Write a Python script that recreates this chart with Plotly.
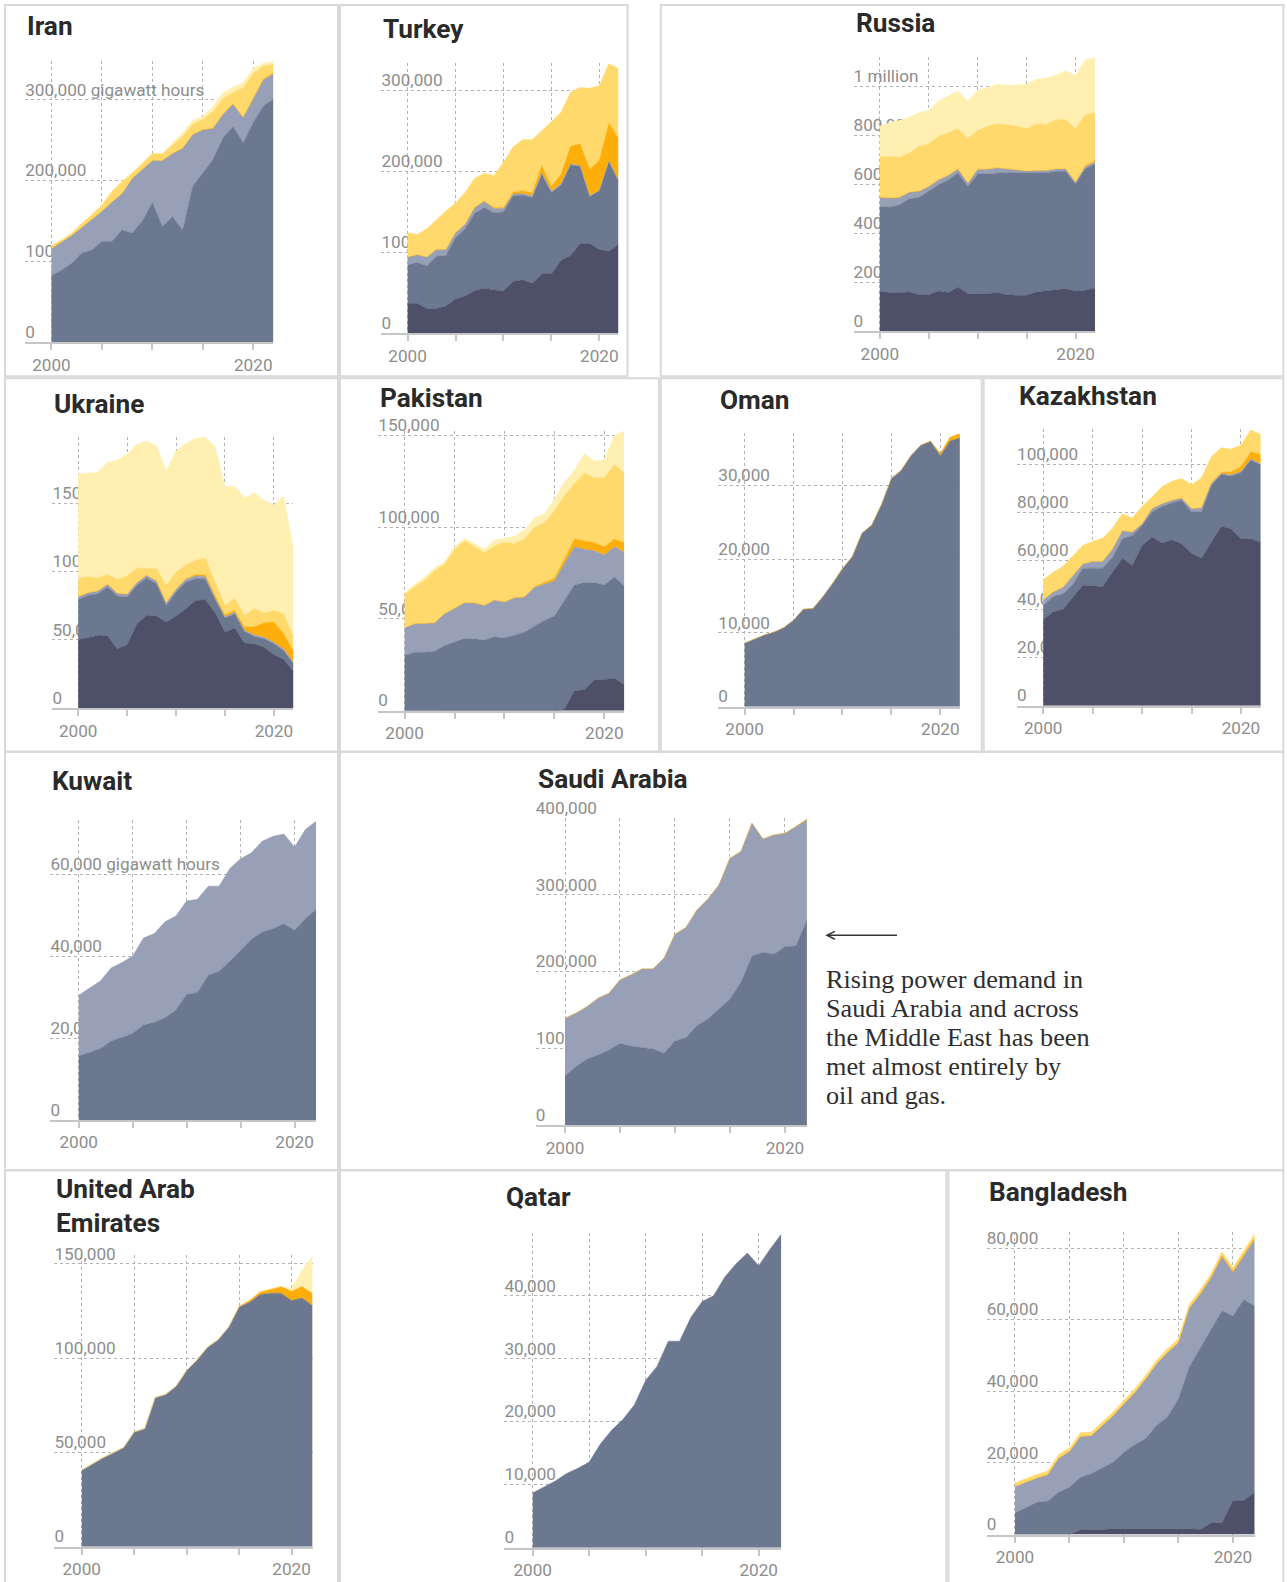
import plotly.graph_objects as go

# Page size; positions below are measured on the reference as displayed
# (1568 px tall), so they are scaled up by S to page pixels.
PAGE_W, PAGE_H = 1287, 1582
S = 1582 / 1568


def px(x):
    return x * S / PAGE_W


def py(y):
    return 1 - y * S / PAGE_H


YEARS = [2000, 2001, 2002, 2003, 2004, 2005, 2006, 2007, 2008, 2009, 2010, 2011,
         2012, 2013, 2014, 2015, 2016, 2017, 2018, 2019, 2020, 2021, 2022]
X_TICKS = [2000, 2005, 2010, 2015, 2020]
X_TICK_TEXT = ["2000", "", "", "", "2020"]

# Electricity generation by source, thousand gigawatt hours
IRAN_GAS = [82.2, 89.2, 97.5, 110.0, 114.0, 124.5, 125.0, 139.0, 135.0, 150.0, 173.0, 143.0,
            155.6, 138.6, 193.0, 209.5, 226.0, 253.0, 267.0, 247.0, 272.0, 292.5, 301.0]
IRAN_OIL = [33.8, 34.5, 34.5, 32.0, 37.5, 37.5, 48.4, 45.0, 67.5, 63.7, 52.0, 82.0,
            78.0, 101.4, 64.0, 53.5, 38.7, 29.0, 27.6, 31.0, 30.0, 32.0, 31.0]
IRAN_WIND = [0, 0, 0, 0, 0, 0, 0, 0, 0, 0, 0, 0, 0, 0, 0, 0, 0.3, 0.5, 0.6, 0.7, 1.0, 1.5, 2.0]
IRAN_HYDRO = [3.5, 2.8, 3.0, 5.0, 6.2, 8.0, 13.3, 15.0, 7.0, 8.0, 8.6, 8.6,
              11.2, 15.0, 13.0, 13.0, 20.7, 19.5, 13.8, 36.3, 30.0, 16.0, 10.0]
IRAN_NUCLEAR = [0, 0, 0, 0, 0, 0, 0, 0, 0, 0, 0, 0, 1.3, 4.5, 4.5, 3.5, 6.0, 7.0, 7.0, 6.5, 6.0, 3.5, 4.0]

TURKEY_COAL = [36.6, 36.6, 30.3, 30.3, 33.2, 42.0, 45.7, 52.3, 55.3, 53.2, 52.3, 63.6,
               65.6, 61.5, 72.7, 72.7, 89.7, 95.6, 110.5, 110.5, 103.0, 101.0, 109.3]
TURKEY_GAS = [47.7, 50.6, 52.8, 64.4, 62.4, 75.6, 83.1, 95.6, 99.7, 95.5, 97.3, 105.9,
              104.7, 105.9, 123.8, 101.0, 93.1, 112.1, 95.5, 58.2, 72.7, 110.9, 78.9]
TURKEY_OIL = [9.5, 9.5, 10.8, 8.3, 7.5, 6.2, 5.4, 7.0, 7.5, 5.0, 4.0, 2.0,
              2.0, 1.8, 1.5, 1.5, 1.2, 1.0, 0.8, 0.5, 0.5, 0.5, 0.5]
TURKEY_WIND = [0, 0, 0, 0, 0, 0, 0.1, 0.4, 0.8, 1.5, 1.5, 2.5,
               3.5, 4.0, 9.0, 6.0, 12.0, 22.0, 27.0, 33.0, 37.0, 47.0, 52.0]
TURKEY_HYDRO = [30.0, 25.0, 34.9, 37.4, 47.7, 36.6, 39.4, 35.8, 34.0, 39.2, 55.9, 55.7,
                63.1, 65.7, 42.3, 79.7, 76.5, 66.8, 69.5, 100.3, 92.2, 73.4, 85.9]

RUSSIA_COAL = [164.0, 158.5, 158.5, 161.0, 150.0, 150.0, 165.0, 158.5, 181.7, 154.0, 154.0, 154.0,
               158.5, 150.0, 147.5, 147.5, 161.0, 165.0, 168.0, 175.0, 164.0, 168.0, 177.6]
RUSSIA_GAS = [345.6, 348.3, 357.9, 380.0, 396.4, 421.0, 433.4, 460.4, 464.5, 437.5, 488.0, 488.0,
              487.5, 496.0, 498.5, 495.9, 485.0, 481.0, 485.0, 478.0, 437.0, 496.0, 505.4]
RUSSIA_OIL = [37, 37, 30, 27, 25, 20, 20, 18, 16, 14, 20, 20, 22, 18, 12, 11, 10, 10, 10, 10, 7, 8, 8]
RUSSIA_WIND = [0, 0, 0, 0, 0, 0, 0, 0, 0, 0, 0, 0, 0, 0, 0, 0, 0, 0, 0, 0.5, 1.5, 4.0, 6.0]
RUSSIA_HYDRO = [165.1, 170.7, 164.0, 160.0, 184.1, 174.0, 178.0, 173.1, 165.7, 181.4, 157.7, 175.4,
                179.0, 177.5, 179.4, 173.5, 191.0, 188.3, 201.8, 201.3, 218.4, 209.2, 195.0]
RUSSIA_NUCLEAR = [125.7, 136.5, 150.3, 146.3, 136.5, 136.6, 143.5, 150.4, 153.0, 153.0, 163.9, 157.1,
                  161.2, 162.6, 168.1, 180.3, 181.7, 188.5, 181.6, 198.0, 217.1, 222.8, 225.5]

UKRAINE_COAL = [50.1, 51.8, 53.3, 53.1, 43.5, 46.5, 61.9, 68.0, 67.5, 63.1, 67.5, 72.9,
                79.0, 79.2, 69.9, 55.7, 58.7, 47.7, 47.2, 44.7, 39.1, 35.7, 26.9]
UKRAINE_GAS = [29.6, 30.8, 30.6, 35.7, 38.7, 34.9, 28.1, 27.4, 23.7, 12.2, 17.6, 19.5,
               15.9, 15.2, 9.8, 10.3, 10.5, 8.5, 5.4, 6.2, 8.1, 6.6, 5.6]
UKRAINE_OIL = [2.0, 2.0, 2.0, 2.0, 2.0, 2.0, 2.0, 2.0, 2.0, 2.0, 2.0, 2.0,
               2.0, 2.0, 1.0, 1.0, 1.0, 1.0, 1.0, 1.0, 1.0, 1.0, 1.0]
UKRAINE_WIND = [0, 0, 0, 0, 0, 0, 0, 0, 0, 0, 0, 0.5, 1.0, 1.2, 1.8, 1.5, 1.5, 2.2, 6.0, 10.7, 14.9, 11.2, 8.1]
UKRAINE_HYDRO = [13.2, 12.0, 9.5, 7.2, 10.2, 13.4, 10.7, 5.3, 9.0, 12.7, 12.7, 10.2,
                 10.4, 12.4, 9.9, 6.8, 9.0, 8.6, 13.3, 7.3, 8.5, 14.7, 10.5]
UKRAINE_NUCLEAR = [76.5, 75.8, 77.5, 82.0, 87.3, 89.3, 90.5, 92.9, 90.0, 83.6, 88.5, 88.8,
                   89.3, 88.3, 99.0, 86.8, 81.9, 86.0, 85.0, 82.4, 77.1, 86.3, 63.5]

PAKISTAN_COAL = [0, 0, 0, 0, 0, 0.3, 0.3, 0.3, 0.3, 0.3, 0.3, 0.3,
                 0.3, 0.3, 0.3, 0.3, 1.0, 10.9, 11.5, 16.9, 17.1, 17.7, 14.2]
PAKISTAN_GAS = [30.1, 31.9, 31.9, 32.4, 35.5, 37.3, 39.1, 38.9, 38.2, 40.0, 39.4, 40.9,
                42.5, 45.8, 48.9, 51.3, 58.8, 57.6, 58.3, 52.9, 51.4, 55.2, 53.8]
PAKISTAN_OIL = [15.1, 15.5, 15.7, 15.5, 17.4, 18.3, 19.5, 19.5, 18.9, 20.0, 19.5, 20.4,
                19.2, 21.0, 19.7, 19.1, 20.4, 20.8, 18.2, 17.3, 16.4, 16.4, 18.2]
PAKISTAN_WIND = [0, 0, 0, 0, 0, 0, 0, 0, 0, 0, 0, 0, 0, 0.5, 1.0, 1.5, 2.4, 4.2, 4.5, 4.5, 4.3, 4.2, 5.5]
PAKISTAN_HYDRO = [18.2, 20.2, 23.5, 28.3, 26.9, 31.9, 33.7, 30.6, 28.8, 29.6, 32.5, 29.5,
                  31.5, 32.3, 32.7, 36.8, 34.6, 30.1, 37.1, 35.3, 37.7, 40.7, 37.9]
PAKISTAN_NUCLEAR = [0.9, 1.3, 1.8, 1.5, 1.3, 1.6, 1.3, 1.5, 1.8, 3.1, 2.4, 3.9,
                    5.1, 5.1, 4.6, 6.4, 7.3, 7.3, 10.4, 9.1, 9.8, 15.8, 22.8]

OMAN_GAS = [8.6, 9.2, 9.7, 10.1, 10.7, 11.7, 13.2, 13.3, 14.9, 16.7, 18.7, 20.3,
            23.5, 24.6, 27.4, 30.9, 32.0, 34.0, 35.4, 35.9, 34.0, 36.0, 36.4]
OMAN_WIND = [0, 0, 0, 0, 0, 0, 0, 0, 0, 0, 0, 0, 0, 0, 0, 0, 0, 0, 0, 0.1, 0.3, 0.5, 0.6]

KAZAKHSTAN_COAL = [35.8, 38.8, 39.9, 44.8, 49.9, 49.7, 49.2, 55.2, 61.0, 58.0, 66.3, 69.8,
                   67.4, 68.7, 67.0, 63.1, 61.0, 67.7, 74.3, 73.2, 69.1, 69.1, 67.7]
KAZAKHSTAN_GAS = [5.5, 6.4, 6.3, 5.5, 7.0, 7.2, 7.7, 6.2, 8.1, 12.5, 8.3, 10.4,
                  15.1, 15.2, 18.0, 17.1, 19.2, 23.6, 21.4, 21.9, 27.4, 32.6, 31.9]
KAZAKHSTAN_OIL = [2.5, 1.9, 2.8, 3.7, 1.8, 2.8, 2.8, 3.5, 3.3, 1.4, 0.7, 1.4,
                  1.1, 1.1, 1.0, 1.4, 1.7, 0.7, 0.4, 0.4, 0.4, 0.4, 0.4]
KAZAKHSTAN_WIND = [0, 0, 0, 0, 0, 0, 0, 0, 0, 0, 0, 0, 0, 0, 0, 0, 0, 0.3, 0.5, 1.2, 2.1, 3.0, 4.0]
KAZAKHSTAN_HYDRO = [8.3, 8.1, 8.7, 8.1, 7.6, 8.3, 9.6, 8.6, 7.1, 5.8, 7.2, 4.8,
                    7.0, 7.9, 8.0, 9.9, 12.4, 10.7, 10.2, 9.5, 8.9, 9.0, 8.3]

KUWAIT_GAS = [15.7, 16.5, 17.5, 19.3, 20.2, 21.2, 23.2, 23.9, 25.0, 26.9, 30.7, 31.2,
              35.4, 36.4, 38.8, 41.4, 44.2, 46.0, 46.8, 48.0, 46.4, 49.3, 51.5]
KUWAIT_OIL = [14.8, 15.8, 16.5, 17.9, 18.3, 18.9, 21.3, 21.7, 23.5, 23.0, 22.9, 22.8,
              21.8, 20.8, 22.7, 22.5, 21.2, 22.2, 22.6, 22.0, 20.4, 21.8, 21.6]

SAUDI_GAS = [64.3, 76.1, 86.1, 91.3, 97.8, 106.5, 103.0, 101.3, 99.1, 93.5, 109.6, 113.9,
             129.6, 138.3, 151.3, 164.3, 186.1, 220.4, 225.2, 222.6, 232.6, 233.5, 267.4]
SAUDI_OIL = [74.8, 69.6, 68.2, 73.9, 73.9, 82.6, 92.7, 102.2, 104.4, 123.9, 139.1, 143.5,
             150.8, 156.5, 161.7, 183.5, 170.4, 173.1, 147.8, 155.7, 147.5, 155.1, 130.7]
SAUDI_WIND = [0, 0, 0, 0, 0, 0, 0, 0, 0, 0, 0, 0, 0, 0, 0, 0, 0, 0, 0, 0, 0.3, 0.5, 1.0]

UAE_GAS = [40.6, 43.8, 47.1, 49.8, 52.6, 60.9, 62.6, 79.1, 80.8, 85.2, 93.5, 99.2,
           105.9, 109.8, 116.5, 127.1, 129.7, 133.8, 134.5, 134.5, 130.6, 132.0, 127.9]
UAE_WIND = [0, 0, 0, 0, 0, 0, 0, 0, 0, 0, 0, 0, 0, 0, 0, 0.5, 1.0, 1.5, 2.2, 3.5, 4.9, 6.0, 6.5]
UAE_NUCLEAR = [0, 0, 0, 0, 0, 0, 0, 0, 0, 0, 0, 0, 0, 0, 0, 0, 0, 0, 0, 0, 1.6, 8.5, 20.0]

QATAR_GAS = [8.7, 9.6, 10.6, 11.8, 12.6, 13.6, 16.5, 18.7, 20.4, 22.7, 26.6, 28.8,
             32.8, 32.8, 36.6, 39.1, 40.0, 43.0, 45.1, 46.8, 44.8, 47.4, 49.8]

BANGLADESH_COAL = [0, 0, 0, 0, 0, 0, 1.3, 1.3, 1.4, 1.6, 1.6, 1.6,
                   1.6, 1.6, 1.7, 1.6, 1.6, 1.4, 3.2, 3.3, 9.5, 9.5, 11.8]
BANGLADESH_GAS = [6.0, 7.6, 9.0, 9.3, 11.8, 13.2, 14.7, 15.7, 17.2, 18.6, 21.4, 23.5,
                  25.2, 28.9, 31.1, 36.3, 45.2, 50.5, 53.9, 59.2, 51.5, 56.1, 52.0]
BANGLADESH_OIL = [7.4, 7.0, 6.8, 7.4, 9.5, 10.0, 11.4, 10.6, 11.8, 13.0, 13.5, 14.6,
                  16.7, 17.2, 18.0, 15.6, 16.3, 15.1, 14.5, 15.1, 12.2, 12.2, 18.5]
BANGLADESH_WIND = [0, 0, 0, 0, 0, 0, 0, 0, 0, 0, 0, 0, 0, 0, 0.1, 0.2, 0.2, 0.3, 0.3, 0.4, 0.4, 0.5, 0.6]
BANGLADESH_HYDRO = [1.0, 1.0, 1.0, 1.0, 1.0, 1.0, 1.0, 1.0, 1.0, 1.0, 1.0, 1.0,
                    1.0, 1.0, 1.0, 1.0, 1.0, 1.0, 1.0, 1.0, 1.0, 1.0, 1.0]

# y-axis tick values and labels
TICKS_100K = [0, 100000, 200000, 300000]
TICKS_RUSSIA = [0, 200000, 400000, 600000, 800000, 1000000]
TICKS_50K = [0, 50000, 100000, 150000]
TICKS_10K = [0, 10000, 20000, 30000]
TICKS_QATAR = [0, 10000, 20000, 30000, 40000]
TICKS_KAZ = [0, 20000, 40000, 60000, 80000, 100000]
TICKS_KUWAIT = [0, 20000, 40000, 60000]
TICKS_SAUDI = [0, 100000, 200000, 300000, 400000]
TICKS_BANGLADESH = [0, 20000, 40000, 60000, 80000]

LABELS_IRAN = ["0", "100,000", "200,000", "300,000 gigawatt hours"]
LABELS_TURKEY = ["0", "100,000", "200,000", "300,000"]
LABELS_RUSSIA = ["0", "200,000", "400,000", "600,000", "800,000", "1 million"]
LABELS_50K = ["0", "50,000", "100,000", "150,000"]
LABELS_10K = ["0", "10,000", "20,000", "30,000"]
LABELS_QATAR = ["0", "10,000", "20,000", "30,000", "40,000"]
LABELS_KAZ = ["0", "20,000", "40,000", "60,000", "80,000", "100,000"]
LABELS_KUWAIT = ["0", "20,000", "40,000", "60,000 gigawatt hours"]
LABELS_SAUDI = ["0", "100,000", "200,000", "300,000", "400,000"]
LABELS_BANGLADESH = ["0", "20,000", "40,000", "60,000", "80,000"]

SAUDI_NOTE = ["Rising power demand in", "Saudi Arabia and across",
              "the Middle East has been", "met almost entirely by", "oil and gas."]

ORDER = ["coal", "gas", "oil", "wind_solar", "hydro", "nuclear"]
COLORS = {"coal": "#4d5068", "gas": "#6c7890", "oil": "#98a0b7",
          "wind_solar": "#fdae0a", "hydro": "#ffd96b", "nuclear": "#fff0b2"}

LABEL_FONT = dict(family="Roboto, Arial, sans-serif", size=17 * S, color="#8d8d8d")
TITLE_FONT = dict(family="Roboto, Arial, sans-serif", size=26 * S, color="#2a2a2a", weight=700)
GRID = dict(showgrid=True, gridcolor="#b3b3b3", griddash="3px,3px", gridwidth=1)

panels = [
    dict(title=("Iran", 26), box=(5, 5, 335, 373),
         data={"gas": IRAN_GAS, "oil": IRAN_OIL, "wind_solar": IRAN_WIND,
               "hydro": IRAN_HYDRO, "nuclear": IRAN_NUCLEAR},
         ticks=TICKS_100K, labels=LABELS_IRAN, ymax=348000,
         x_left=25, x2000=51, pxyr=10.0, y_base=339, tick_px=80.0),
    dict(title=("Turkey", 29), box=(337, 5, 622, 373),
         data={"coal": TURKEY_COAL, "gas": TURKEY_GAS, "oil": TURKEY_OIL,
               "wind_solar": TURKEY_WIND, "hydro": TURKEY_HYDRO},
         ticks=TICKS_100K, labels=LABELS_TURKEY, ymax=333000,
         x_left=378, x2000=404, pxyr=9.5, y_base=330, tick_px=80.2),
    dict(title=("Russia", 23), box=(655, 5, 1272, 373),
         data={"coal": RUSSIA_COAL, "gas": RUSSIA_GAS, "oil": RUSSIA_OIL,
               "wind_solar": RUSSIA_WIND, "hydro": RUSSIA_HYDRO, "nuclear": RUSSIA_NUCLEAR},
         ticks=TICKS_RUSSIA, labels=LABELS_RUSSIA, ymax=1118000,
         x_left=846, x2000=872, pxyr=9.7, y_base=328.5, tick_px=48.6),
    dict(title=("Ukraine", 400), box=(5, 375, 335, 745),
         data={"coal": UKRAINE_COAL, "gas": UKRAINE_GAS, "oil": UKRAINE_OIL,
               "wind_solar": UKRAINE_WIND, "hydro": UKRAINE_HYDRO, "nuclear": UKRAINE_NUCLEAR},
         ticks=TICKS_50K, labels=LABELS_50K, ymax=198500,
         x_left=52, x2000=77.5, pxyr=9.7, y_base=702, tick_px=67.7),
    dict(title=("Pakistan", 394), box=(337, 375, 653, 745),
         data={"coal": PAKISTAN_COAL, "gas": PAKISTAN_GAS, "oil": PAKISTAN_OIL,
               "wind_solar": PAKISTAN_WIND, "hydro": PAKISTAN_HYDRO, "nuclear": PAKISTAN_NUCLEAR},
         ticks=TICKS_50K, labels=LABELS_50K, ymax=152500,
         x_left=375, x2000=401, pxyr=9.9, y_base=704.5, tick_px=91.0),
    dict(title=("Oman", 396), box=(655, 375, 973, 745),
         data={"gas": OMAN_GAS, "wind_solar": OMAN_WIND},
         ticks=TICKS_10K, labels=LABELS_10K, ymax=37000,
         x_left=712, x2000=738, pxyr=9.7, y_base=700.5, tick_px=73.2),
    dict(title=("Kazakhstan", 392), box=(975, 375, 1272, 745),
         data={"coal": KAZAKHSTAN_COAL, "gas": KAZAKHSTAN_GAS, "oil": KAZAKHSTAN_OIL,
               "wind_solar": KAZAKHSTAN_WIND, "hydro": KAZAKHSTAN_HYDRO},
         ticks=TICKS_KAZ, labels=LABELS_KAZ, ymax=114500,
         x_left=1008, x2000=1034, pxyr=9.8, y_base=699.5, tick_px=47.9),
    dict(title=("Kuwait", 774), box=(5, 745, 335, 1160),
         data={"gas": KUWAIT_GAS, "oil": KUWAIT_OIL},
         ticks=TICKS_KUWAIT, labels=LABELS_KUWAIT, ymax=73300,
         x_left=50, x2000=78, pxyr=10.7, y_base=1110, tick_px=81.0),
    dict(title=("Saudi Arabia", 772), box=(337, 745, 1272, 1160),
         data={"gas": SAUDI_GAS, "oil": SAUDI_OIL, "wind_solar": SAUDI_WIND},
         ticks=TICKS_SAUDI, labels=LABELS_SAUDI, ymax=400000,
         x_left=531, x2000=560, pxyr=10.9, y_base=1115, tick_px=76.0),
    dict(title=("United Arab<br>Emirates", 1195), box=(5, 1160, 335, 1580),
         data={"gas": UAE_GAS, "wind_solar": UAE_WIND, "nuclear": UAE_NUCLEAR},
         ticks=TICKS_50K, labels=LABELS_50K, ymax=154600,
         x_left=54, x2000=81, pxyr=10.4, y_base=1533, tick_px=93.4),
    dict(title=("Qatar", 1186), box=(337, 1160, 938, 1580),
         data={"gas": QATAR_GAS},
         ticks=TICKS_QATAR, labels=LABELS_QATAR, ymax=50000,
         x_left=500, x2000=528, pxyr=11.2, y_base=1534, tick_px=62.4),
    dict(title=("Bangladesh", 1181), box=(940, 1160, 1272, 1580),
         data={"coal": BANGLADESH_COAL, "gas": BANGLADESH_GAS, "oil": BANGLADESH_OIL,
               "wind_solar": BANGLADESH_WIND, "hydro": BANGLADESH_HYDRO},
         ticks=TICKS_BANGLADESH, labels=LABELS_BANGLADESH, ymax=84500,
         x_left=978, x2000=1006, pxyr=10.8, y_base=1521, tick_px=71.0),
]

fig = go.Figure()
layout = {}
shapes = []
annotations = []

for i, p in enumerate(panels):
    n = "" if i == 0 else str(i + 1)
    xa, ya = "x" + n, "y" + n
    x0yr = 2000 - (p["x2000"] - p["x_left"]) / p["pxyr"]
    x_right = p["x2000"] + 22 * p["pxyr"]
    step = p["ticks"][1] - p["ticks"][0]
    y_top = p["y_base"] - p["ymax"] * p["tick_px"] / step

    layout["xaxis" + n] = dict(
        domain=[px(p["x_left"]), px(x_right)], range=[x0yr, 2022], anchor=ya,
        tickvals=X_TICKS, ticktext=X_TICK_TEXT, tickfont=LABEL_FONT,
        showline=True, linecolor="#c6c6c6", linewidth=2,
        ticks="outside", ticklen=6, tickwidth=1.5, tickcolor="#c6c6c6",
        zeroline=False, layer="above traces", fixedrange=True, **GRID)
    layout["yaxis" + n] = dict(
        domain=[py(p["y_base"]), py(y_top)], range=[0, p["ymax"]], anchor=xa,
        tickvals=p["ticks"], showticklabels=False, ticks="", showline=False,
        zeroline=False, fixedrange=True, **GRID)

    # y labels drawn first so the areas cover them, as in the original
    fig.add_trace(go.Scatter(
        x=[x0yr] * len(p["ticks"]), y=p["ticks"], text=p["labels"], mode="text",
        textposition="top right", textfont=LABEL_FONT, cliponaxis=False,
        xaxis=xa, yaxis=ya, hoverinfo="skip", showlegend=False))

    for src in ORDER:
        vals = p["data"].get(src)
        if vals is None:
            continue
        fig.add_trace(go.Scatter(
            x=YEARS, y=[v * 1000 for v in vals], stackgroup="s" + str(i), mode="lines",
            line=dict(width=0.5, color=COLORS[src]), fillcolor=COLORS[src],
            xaxis=xa, yaxis=ya, hoverinfo="skip", showlegend=False))

    bx0, by0, bx1, by1 = p["box"]
    shapes.append(dict(type="rect", xref="paper", yref="paper",
                       x0=px(bx0), x1=px(bx1), y0=py(by1), y1=py(by0),
                       line=dict(color="#d9d9d9", width=2), layer="below"))

    text, ty = p["title"]
    annotations.append(dict(text=text, x=px(p["x_left"]), y=py(ty),
                            xref="paper", yref="paper", xanchor="left", yanchor="middle",
                            align="left", showarrow=False, font=TITLE_FONT))

# Saudi Arabia note
for k, line in enumerate(SAUDI_NOTE):
    annotations.append(dict(text=line, x=px(817), y=py(971 + k * 28.8),
                            xref="paper", yref="paper", xanchor="left", yanchor="middle",
                            showarrow=False,
                            font=dict(family="Liberation Serif, Times New Roman, serif",
                                      size=26 * S, color="#2e2e2e")))
annotations.append(dict(text=" ", x=px(818), y=py(927), xref="paper", yref="paper",
                        ax=74 * S, ay=0, showarrow=True, arrowhead=5, arrowsize=1.1,
                        arrowwidth=1.4, arrowcolor="#333333", standoff=0))

fig.update_layout(
    width=PAGE_W, height=PAGE_H, margin=dict(l=0, r=0, t=0, b=0),
    paper_bgcolor="white", plot_bgcolor="rgba(0,0,0,0)",
    showlegend=False, shapes=shapes, annotations=annotations, **layout)

fig.write_html("out.html", config={"displayModeBar": False},
               post_script="document.body.style.margin='0px';"
                           "document.body.style.overflow='hidden';")
